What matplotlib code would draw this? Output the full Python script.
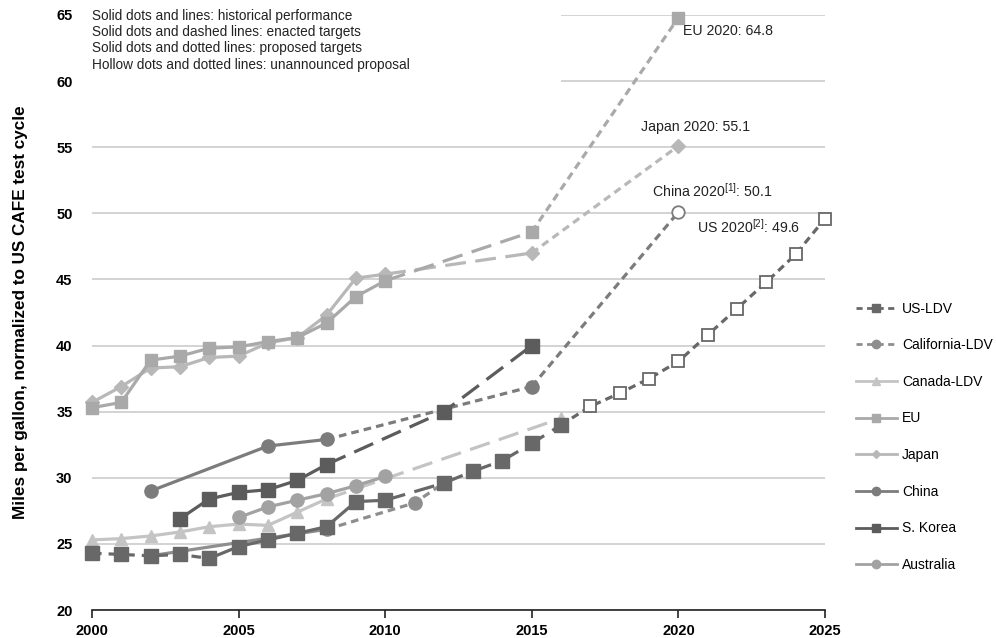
import matplotlib.pyplot as plt
from matplotlib.lines import Line2D
from matplotlib.patches import Rectangle

plt.rcParams['font.family'] = ['Liberation Sans', 'DejaVu Sans']
plt.rcParams['mathtext.default'] = 'regular'

# ---- data (mpg, normalized to US CAFE test cycle) ----
# US light-duty vehicles
us_early_years = [2000, 2001, 2002, 2003, 2004]
us_early_mpg = [24.3, 24.2, 24.1, 24.2, 23.9]
us_hist_years = [2004, 2005, 2006, 2007, 2008, 2009, 2010]
us_hist_mpg = [23.9, 24.8, 25.3, 25.8, 26.3, 28.2, 28.3]
us_enacted_years = [2010, 2012, 2013, 2014, 2015, 2016]
us_enacted_mpg = [28.3, 29.6, 30.5, 31.3, 32.6, 34.0]
us_unann_years = [2016, 2017, 2018, 2019, 2020, 2021, 2022, 2023, 2024, 2025]
us_unann_mpg = [34.0, 35.4, 36.4, 37.5, 38.8, 40.8, 42.8, 44.8, 46.9, 49.6]

# California
ca_hist_years = [2002, 2008]
ca_hist_mpg = [24.1, 26.1]
ca_prop_years = [2008, 2011, 2012]
ca_prop_mpg = [26.1, 28.1, 29.6]

# Canada
cn_ldv_hist_years = [2000, 2001, 2002, 2003, 2004, 2005, 2006, 2007, 2008]
cn_ldv_hist_mpg = [25.3, 25.4, 25.6, 25.9, 26.3, 26.5, 26.4, 27.4, 28.4]
cn_ldv_enacted_years = [2008, 2016]
cn_ldv_enacted_mpg = [28.4, 34.5]

# EU
eu_hist_years = [2000, 2001, 2002, 2003, 2004, 2005, 2006, 2007, 2008, 2009, 2010]
eu_hist_mpg = [35.3, 35.7, 38.9, 39.2, 39.8, 39.9, 40.3, 40.6, 41.7, 43.7, 44.9]
eu_enacted_years = [2010, 2015]
eu_enacted_mpg = [44.9, 48.6]
eu_prop_years = [2015, 2020]
eu_prop_mpg = [48.6, 64.8]

# Japan
jp_hist_years = [2000, 2001, 2002, 2003, 2004, 2005, 2006, 2007, 2008, 2009, 2010]
jp_hist_mpg = [35.7, 36.9, 38.3, 38.4, 39.1, 39.2, 40.2, 40.6, 42.3, 45.1, 45.4]
jp_enacted_years = [2010, 2015]
jp_enacted_mpg = [45.4, 47.0]
jp_prop_years = [2015, 2020]
jp_prop_mpg = [47.0, 55.1]

# China
ch_hist_years = [2002, 2006, 2008]
ch_hist_mpg = [29.0, 32.4, 32.9]
ch_prop_years = [2008, 2015]
ch_prop_mpg = [32.9, 36.9]
ch_unann_years = [2015, 2020]
ch_unann_mpg = [36.9, 50.1]

# S. Korea
kr_hist_years = [2003, 2004, 2005, 2006, 2007, 2008]
kr_hist_mpg = [26.9, 28.4, 28.9, 29.1, 29.8, 31.0]
kr_enacted_years = [2008, 2012, 2015]
kr_enacted_mpg = [31.0, 35.0, 40.0]

# Australia
au_hist_years = [2005, 2006, 2007, 2008, 2009, 2010]
au_hist_mpg = [27.0, 27.8, 28.3, 28.8, 29.4, 30.1]

notes = ["Solid dots and lines: historical performance",
         "Solid dots and dashed lines: enacted targets",
         "Solid dots and dotted lines: proposed targets",
         "Hollow dots and dotted lines: unannounced proposal"]

# ---- styles ----
C_US = '#686868'
C_CA = '#8e8e8e'
C_CAN = '#c4c4c4'
C_EU = '#a9a9a9'
C_JP = '#b8b8b8'
C_CH = '#7c7c7c'
C_KR = '#5c5c5c'
C_AU = '#a2a2a2'

SOLID = '-'
ENACTED = (0, (6.5, 3.0))
PROPOSED = (0, (2.4, 1.6))
EARLY = (0, (3.0, 2.2))

fig = plt.figure(figsize=(9.96, 6.38), dpi=100)
ax = fig.add_axes([92 / 996, 1 - 610 / 638, (825 - 92) / 996, (610 - 15) / 638])


def serie(x, y, color, marker, ls, ms, skip_first=False, hollow=False, z=3):
    ax.plot(x, y, color=color, lw=2.3, ls=ls, marker=marker, ms=ms,
            mfc='white' if hollow else color, mec=color,
            mew=1.3 if hollow else 1.0,
            markevery=slice(1 if skip_first else 0, None),
            clip_on=False, zorder=z, solid_capstyle='butt', dash_capstyle='butt')


# EU and Japan
serie(jp_hist_years, jp_hist_mpg, C_JP, 'D', SOLID, 7)
serie(jp_enacted_years, jp_enacted_mpg, C_JP, 'D', ENACTED, 7, skip_first=True)
serie(jp_prop_years, jp_prop_mpg, C_JP, 'D', PROPOSED, 7, skip_first=True)
serie(eu_hist_years, eu_hist_mpg, C_EU, 's', SOLID, 9)
serie(eu_enacted_years, eu_enacted_mpg, C_EU, 's', ENACTED, 9, skip_first=True)
serie(eu_prop_years, eu_prop_mpg, C_EU, 's', PROPOSED, 9, skip_first=True)

# Canada and Australia
serie(cn_ldv_hist_years, cn_ldv_hist_mpg, C_CAN, '^', SOLID, 9)
serie(cn_ldv_enacted_years, cn_ldv_enacted_mpg, C_CAN, '^', ENACTED, 9, skip_first=True)
serie(au_hist_years, au_hist_mpg, C_AU, 'o', SOLID, 9.5)

# China
serie(ch_hist_years, ch_hist_mpg, C_CH, 'o', SOLID, 9.5)
serie(ch_prop_years, ch_prop_mpg, C_CH, 'o', PROPOSED, 9.5, skip_first=True)
serie(ch_unann_years, ch_unann_mpg, C_CH, 'o', PROPOSED, 9, skip_first=True, hollow=True)

# S. Korea
serie(kr_hist_years, kr_hist_mpg, C_KR, 's', SOLID, 9.5)
serie(kr_enacted_years, kr_enacted_mpg, C_KR, 's', ENACTED, 9.5, skip_first=True)

# California
serie(ca_hist_years, ca_hist_mpg, C_CA, 'o', SOLID, 9.5)
serie(ca_prop_years, ca_prop_mpg, C_CA, 'o', PROPOSED, 9.5, skip_first=True)

# US
serie(us_early_years, us_early_mpg, C_US, 's', EARLY, 9.5, z=4)
serie(us_hist_years, us_hist_mpg, C_US, 's', SOLID, 9.5, skip_first=True, z=4)
serie(us_enacted_years, us_enacted_mpg, C_US, 's', ENACTED, 9.5, skip_first=True, z=4)
serie(us_unann_years, us_unann_mpg, C_US, 's', PROPOSED, 8.5, skip_first=True, hollow=True, z=4)

# axes
ax.set_xlim(2000, 2025)
ax.set_ylim(20, 65)
ax.set_xticks(range(2000, 2026, 5))
ax.set_yticks(range(20, 66, 5))
ax.yaxis.grid(True, color='#c8c8c8', lw=1.1)
ax.set_axisbelow(True)
for s in ['left', 'right', 'top']:
    ax.spines[s].set_visible(False)
ax.spines['bottom'].set_color('#222222')
ax.spines['bottom'].set_linewidth(1.2)
ax.tick_params(axis='x', direction='out', length=6, width=1.2, color='#222222', pad=4)
ax.tick_params(axis='y', length=0, pad=14)
for lab in ax.get_xticklabels() + ax.get_yticklabels():
    lab.set_fontweight('bold')
    lab.set_fontsize(10.5)
ax.set_ylabel('Miles per gallon, normalized to US CAFE test cycle',
              fontsize=12.3, fontweight='bold', labelpad=20)

# notes box over the top-left gridlines
ax.add_patch(Rectangle((2000, 59.4), 16, 7, facecolor='white', edgecolor='none',
                       zorder=1, clip_on=False))
ax.text(2000, 65.45, '\n'.join(notes), fontsize=9.8, va='top', ha='left',
        linespacing=1.2, color='#222222', zorder=5)

# end-point labels
ax.text(2020.15, 63.8, 'EU 2020: 64.8', fontsize=10.2, ha='left', va='center', color='#222222')
ax.text(2020.6, 56.5, 'Japan 2020: 55.1', fontsize=10.2, ha='center', va='center', color='#222222')
ax.text(2021.15, 51.7, 'China 2020$^{[1]}$: 50.1', fontsize=10.2, ha='center', va='center',
        color='#222222')
ax.text(2022.4, 49.0, 'US 2020$^{[2]}$: 49.6', fontsize=10.2, ha='center', va='center',
        color='#222222')

# legend
handles = [
    Line2D([], [], color=C_US, lw=2, ls=(0, (2.2, 1.6)), marker='s', ms=6),
    Line2D([], [], color=C_CA, lw=2, ls=(0, (2.2, 1.6)), marker='o', ms=6),
    Line2D([], [], color=C_CAN, lw=2, marker='^', ms=5.5),
    Line2D([], [], color=C_EU, lw=2, marker='s', ms=5.5),
    Line2D([], [], color=C_JP, lw=2, marker='D', ms=4),
    Line2D([], [], color=C_CH, lw=2, marker='o', ms=6),
    Line2D([], [], color=C_KR, lw=2, marker='s', ms=6),
    Line2D([], [], color=C_AU, lw=2, marker='o', ms=6),
]
labels = ['US-LDV', 'California-LDV', 'Canada-LDV', 'EU', 'Japan', 'China',
          'S. Korea', 'Australia']
fig.legend(handles, labels, loc='upper left', bbox_to_anchor=(850 / 996, 1 - 296 / 638),
           frameon=False, fontsize=10, handlelength=3.0, handletextpad=0.35,
           labelspacing=1.63, borderaxespad=0)

fig.savefig('out.png', dpi=100)
